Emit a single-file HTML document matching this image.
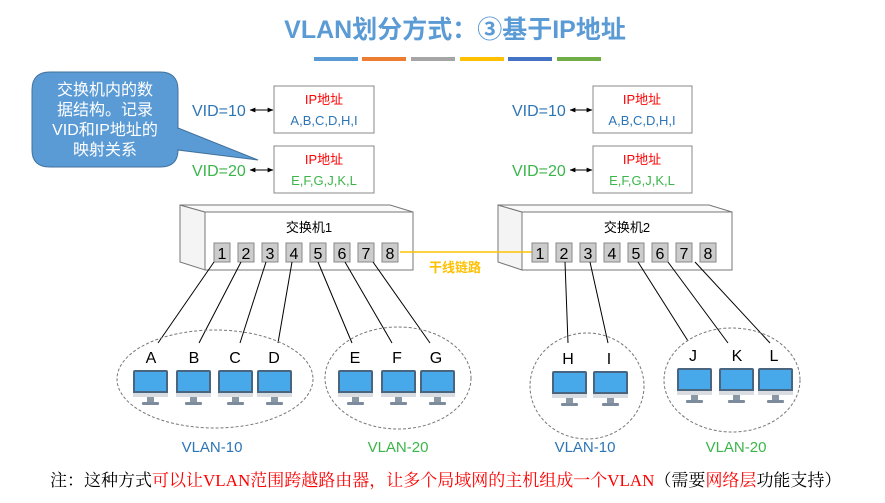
<!DOCTYPE html>
<html><head><meta charset="utf-8"><style>
body{margin:0;width:885px;height:498px;background:#fff;overflow:hidden;font-family:"Liberation Sans","Noto Sans CJK SC",sans-serif}
</style></head><body>
<svg width="885" height="498" viewBox="0 0 885 498" xmlns="http://www.w3.org/2000/svg" font-family="Liberation Sans, Noto Sans CJK SC, sans-serif">
<defs>
<marker id="ah" viewBox="0 0 10 10" refX="9" refY="5" markerWidth="6" markerHeight="6" orient="auto-start-reverse"><path d="M0,1 L10,5 L0,9z" fill="#000"/></marker>
<g id="pc">
<rect x="0" y="0" width="35" height="25" rx="2" fill="#4a6580"/>
<rect x="2" y="2" width="31" height="19" fill="#47a9ea"/>
<rect x="0" y="23" width="35" height="4" fill="#d9dde2"/>
<rect x="14" y="27" width="7" height="5" fill="#8a98a6"/>
<rect x="9" y="32" width="17" height="3" rx="1" fill="#7c8c9c"/>
</g>
</defs>
<text x="455" y="38" font-size="25" font-weight="bold" fill="#5b9bd5" text-anchor="middle">VLAN划分方式：③基于IP地址</text>
<rect x="314" y="57" width="44" height="4" fill="#5b9bd5"/>
<rect x="362" y="57" width="44" height="4" fill="#ed7d31"/>
<rect x="411" y="57" width="44" height="4" fill="#a5a5a5"/>
<rect x="460" y="57" width="44" height="4" fill="#ffc000"/>
<rect x="508" y="57" width="44" height="4" fill="#4472c4"/>
<rect x="557" y="57" width="44" height="4" fill="#70ad47"/>

<path d="M50,72 H160 Q178,72 178,90 V150 Q178,167 160,167 H50 Q32,167 32,150 V90 Q32,72 50,72z" fill="#5b9bd5" stroke="#41719c"/>
<path d="M178,128 L258,160 L178,150z" fill="#5b9bd5" stroke="#41719c"/>
<rect x="176" y="129" width="4" height="20" fill="#5b9bd5"/>
<g fill="#fff" font-size="16" text-anchor="middle">
<text x="105" y="95">交换机内的数</text><text x="105" y="115">据结构。记录</text><text x="105" y="135">VID和IP地址的</text><text x="105" y="155">映射关系</text></g>

<g font-size="16">
<text x="192" y="116" fill="#2e75b6">VID=10</text>
<text x="192" y="176" fill="#3bb54a">VID=20</text>
<text x="512" y="116" fill="#2e75b6">VID=10</text>
<text x="512" y="176" fill="#3bb54a">VID=20</text>
</g>
<g stroke="#000" stroke-width="1" marker-start="url(#ah)" marker-end="url(#ah)">
<line x1="250" y1="110" x2="273" y2="110"/><line x1="250" y1="170" x2="273" y2="170"/>
<line x1="570" y1="110" x2="592" y2="110"/><line x1="570" y1="170" x2="592" y2="170"/>
</g>
<g fill="#fff" stroke="#888">
<rect x="274" y="86" width="100" height="47"/><rect x="274" y="146" width="100" height="47"/>
<rect x="593" y="86" width="99" height="47"/><rect x="593" y="146" width="99" height="47"/>
</g>
<g font-size="13" text-anchor="middle">
<text x="324" y="104" fill="#f00">IP地址</text><text x="324" y="125" fill="#2e75b6">A,B,C,D,H,I</text>
<text x="324" y="164" fill="#f00">IP地址</text><text x="324" y="185" fill="#3bb54a">E,F,G,J,K,L</text>
<text x="642" y="104" fill="#f00">IP地址</text><text x="642" y="125" fill="#2e75b6">A,B,C,D,H,I</text>
<text x="642" y="164" fill="#f00">IP地址</text><text x="642" y="185" fill="#3bb54a">E,F,G,J,K,L</text>
</g>

<g stroke="#777" fill="#fff">
<path d="M180,205 L205,212 L205,270 L180,262z" fill="#f4f4f4"/>
<path d="M180,205 L390,205 L413,212 L205,212z" fill="#fafafa"/>
<rect x="205" y="212" width="208" height="58" fill="#fff"/>
<path d="M498,205 L522,212 L522,270 L498,262z" fill="#f4f4f4"/>
<path d="M498,205 L709,205 L732,212 L522,212z" fill="#fafafa"/>
<rect x="522" y="212" width="210" height="58"/>
</g>
<text x="309" y="232" font-size="13" text-anchor="middle">交换机1</text>
<text x="627" y="232" font-size="13" text-anchor="middle">交换机2</text>
<line x1="400" y1="252" x2="532" y2="252" stroke="#ffc000" stroke-width="1.5"/>
<text x="455" y="272" font-size="13" fill="#ffc000" font-weight="bold" text-anchor="middle">干线链路</text>
<g font-size="16" text-anchor="middle">
<g fill="#ccc" stroke="#888">
<rect x="214" y="243" width="16" height="19"/><rect x="238" y="243" width="16" height="19"/><rect x="262" y="243" width="16" height="19"/><rect x="286" y="243" width="16" height="19"/><rect x="310" y="243" width="16" height="19"/><rect x="334" y="243" width="16" height="19"/><rect x="358" y="243" width="16" height="19"/><rect x="382" y="243" width="16" height="19"/>
<rect x="532" y="243" width="16" height="19"/><rect x="556" y="243" width="16" height="19"/><rect x="580" y="243" width="16" height="19"/><rect x="604" y="243" width="16" height="19"/><rect x="628" y="243" width="16" height="19"/><rect x="652" y="243" width="16" height="19"/><rect x="676" y="243" width="16" height="19"/><rect x="700" y="243" width="16" height="19"/>
</g>
<text x="222" y="259">1</text><text x="246" y="259">2</text><text x="270" y="259">3</text><text x="294" y="259">4</text><text x="318" y="259">5</text><text x="342" y="259">6</text><text x="366" y="259">7</text><text x="390" y="259">8</text>
<text x="540" y="259">1</text><text x="564" y="259">2</text><text x="588" y="259">3</text><text x="612" y="259">4</text><text x="636" y="259">5</text><text x="660" y="259">6</text><text x="684" y="259">7</text><text x="708" y="259">8</text>
</g>
<g stroke="#000" stroke-width="1">
<line x1="214" y1="262" x2="158" y2="343"/><line x1="241" y1="262" x2="199" y2="343"/><line x1="266" y1="262" x2="240" y2="343"/><line x1="292" y1="262" x2="278" y2="343"/>
<line x1="318" y1="262" x2="352" y2="343"/><line x1="345" y1="262" x2="392" y2="343"/><line x1="373" y1="262" x2="430" y2="343"/>
<line x1="565" y1="262" x2="568" y2="343"/><line x1="590" y1="262" x2="608" y2="343"/><line x1="638" y1="262" x2="688" y2="341"/><line x1="668" y1="262" x2="728" y2="343"/><line x1="695" y1="262" x2="770" y2="343"/>
</g>
<g fill="none" stroke="#777" stroke-dasharray="3,2">
<ellipse cx="215" cy="379" rx="98" ry="49"/><ellipse cx="398" cy="378" rx="73" ry="51"/>
<ellipse cx="587" cy="386" rx="57" ry="53"/><ellipse cx="732" cy="380" rx="68" ry="52"/>
</g>
<g font-size="16" text-anchor="middle">
<text x="151" y="363">A</text><text x="194" y="363">B</text><text x="235" y="363">C</text><text x="274" y="363">D</text>
<text x="355" y="363">E</text><text x="397" y="363">F</text><text x="436" y="363">G</text>
<text x="568" y="364">H</text><text x="609" y="364">I</text><text x="693" y="361">J</text><text x="737" y="361">K</text><text x="774" y="361">L</text>
</g>
<use href="#pc" x="133" y="370"/><use href="#pc" x="176" y="370"/><use href="#pc" x="218" y="370"/><use href="#pc" x="257" y="370"/>
<use href="#pc" x="338" y="370"/><use href="#pc" x="381" y="370"/><use href="#pc" x="420" y="370"/>
<use href="#pc" x="552" y="371"/><use href="#pc" x="593" y="371"/>
<use href="#pc" x="677" y="368"/><use href="#pc" x="719" y="368"/><use href="#pc" x="758" y="368"/>
<g font-size="15" text-anchor="middle">
<text x="212" y="452" fill="#2e75b6">VLAN-10</text><text x="398" y="452" fill="#3bb54a">VLAN-20</text>
<text x="585" y="452" fill="#2e75b6">VLAN-10</text><text x="736" y="452" fill="#3bb54a">VLAN-20</text>
</g>
<text x="50" y="486" font-size="17" font-family="Liberation Serif, Noto Serif CJK SC, serif">注：这种方式<tspan fill="#f00">可以让VLAN范围跨越路由器，让多个局域网的主机组成一个VLAN</tspan>（需要<tspan fill="#f00">网络层</tspan>功能支持）</text>
</svg>
</body></html>
